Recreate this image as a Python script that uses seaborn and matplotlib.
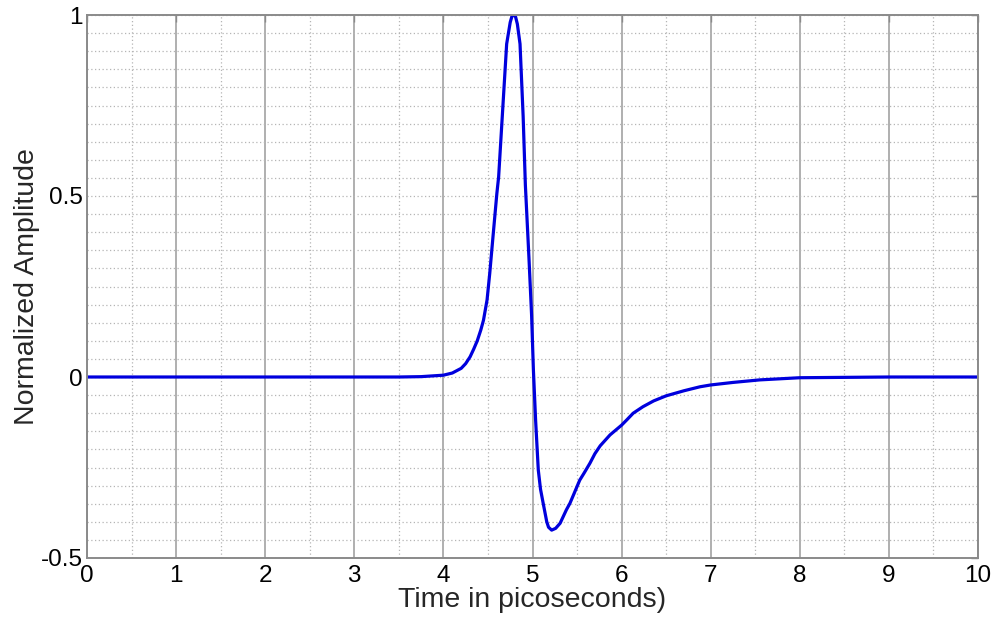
import matplotlib
matplotlib.use("Agg")
import matplotlib.pyplot as plt
from matplotlib.ticker import MultipleLocator, FixedLocator
import seaborn as sns
import pandas as pd

# Values
time_ps = [0.0, 1.0, 2.0, 3.0, 3.5, 3.75, 4.0, 4.1, 4.2, 4.25, 4.3, 4.34, 4.38,
           4.42, 4.45, 4.49, 4.52, 4.56, 4.60, 4.62, 4.665, 4.71, 4.75, 4.77,
           4.79, 4.81, 4.83, 4.86, 4.895, 4.92, 4.96, 4.99, 5.01, 5.035, 5.065,
           5.09, 5.12, 5.16, 5.18, 5.215, 5.26, 5.31, 5.38, 5.42, 5.47, 5.53,
           5.58, 5.645, 5.70, 5.76, 5.87, 6.0, 6.06, 6.13, 6.24, 6.36, 6.5,
           6.7, 6.88, 7.0, 7.25, 7.55, 8.0, 9.0, 10.0]
amplitude = [0.0, 0.0, 0.0, 0.0, 0.0, 0.001, 0.005, 0.011, 0.024, 0.037, 0.056,
             0.077, 0.10, 0.13, 0.157, 0.213, 0.286, 0.397, 0.507, 0.553,
             0.737, 0.92, 0.98, 0.997, 1.0, 0.995, 0.975, 0.92, 0.72, 0.53,
             0.33, 0.17, 0.02, -0.12, -0.257, -0.31, -0.349, -0.40, -0.415,
             -0.423, -0.418, -0.404, -0.367, -0.349, -0.32, -0.285, -0.265,
             -0.238, -0.212, -0.19, -0.16, -0.133, -0.118, -0.10, -0.082,
             -0.066, -0.052, -0.038, -0.027, -0.022, -0.015, -0.008, -0.002,
             0.0, 0.0]
x_ticks = [0, 1, 2, 3, 4, 5, 6, 7, 8, 9, 10]
y_ticks = [-0.5, 0, 0.5, 1]
y_tick_labels = ["-0.5", "0", "0.5", "1"]

sns.set_style("white")
plt.rcParams['font.family'] = ['Liberation Sans', 'DejaVu Sans']

df = pd.DataFrame({"t": time_ps, "a": amplitude})

fig = plt.figure(figsize=(9.98, 6.19), dpi=100)
ax = fig.add_axes([87 / 998, 1 - 558 / 619, (978 - 87) / 998, (558 - 15) / 619])

# grid
ax.set_xlim(0, 10)
ax.set_ylim(-0.5, 1)
ax.xaxis.set_major_locator(FixedLocator(x_ticks))
ax.xaxis.set_minor_locator(MultipleLocator(0.5))
ax.yaxis.set_major_locator(FixedLocator(y_ticks))
ax.yaxis.set_minor_locator(MultipleLocator(0.05))
ax.set_yticklabels(y_tick_labels)
ax.grid(True, axis='x', which='major', color='#9a9a9a', linestyle='-', linewidth=1.1)
ax.grid(True, axis='x', which='minor', color='#b5b5b5', linestyle=(0, (1, 2)), linewidth=0.9)
ax.grid(True, axis='y', which='both', color='#b5b5b5', linestyle=(0, (1, 2)), linewidth=0.9)
ax.set_axisbelow(True)

sns.lineplot(data=df, x="t", y="a", ax=ax, color='#0000dd', linewidth=2.3)

for s in ax.spines.values():
    s.set_color('#8a8a8a')
    s.set_linewidth(1.4)

ax.tick_params(axis='both', which='major', direction='in', length=5, width=1,
               color='#8a8a8a', labelsize=17.5, labelcolor='black', pad=5,
               top=True, right=True)
ax.tick_params(axis='y', which='major', pad=3)
ax.tick_params(axis='both', which='minor', length=0)

ax.set_xlabel("Time in picoseconds)", fontsize=20.5, labelpad=0)
ax.set_ylabel("Normalized Amplitude", fontsize=20.5)
ax.yaxis.set_label_coords(-0.053, 0.5)

fig.savefig("out.png", dpi=100, facecolor='white')
